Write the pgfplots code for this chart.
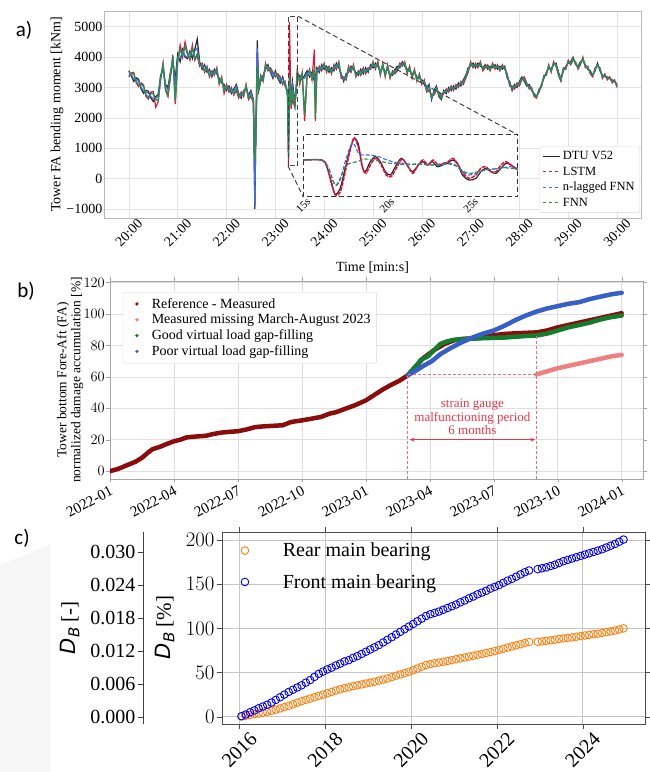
\documentclass[border=0pt]{standalone}
\usepackage{pgfplots}
\pgfplotsset{compat=1.18}
\usepackage{pgfplotstable}
\usepackage{fontspec}
\setmainfont{Liberation Serif}
\newfontfamily\panelfont{Carlito}
\newfontfamily\dvs{DejaVu Sans}
\usetikzlibrary{arrows.meta}

\definecolor{dtu}{RGB}{40,40,40}
\definecolor{lstm}{RGB}{220,20,60}
\definecolor{nlag}{RGB}{65,105,225}
\definecolor{fnn}{RGB}{46,139,87}
\definecolor{refred}{RGB}{139,12,12}
\definecolor{misspink}{RGB}{240,128,128}
\definecolor{goodgreen}{RGB}{20,125,45}
\definecolor{poorblue}{RGB}{55,95,200}
\definecolor{annot}{RGB}{232,55,70}
\definecolor{annotlight}{RGB}{240,110,120}
\definecolor{rearor}{RGB}{255,127,14}
\definecolor{frontbl}{RGB}{0,0,235}

\pgfplotsset{
  dotleg/.style={legend image code/.code={\path[draw=none,fill=none] (0cm,0cm) -- (0.8cm,0cm); \fill[##1, draw=none] (0.35cm,0cm) circle (1.8pt);}},
  ringleg/.style={legend image code/.code={\path[draw=none,fill=none] (0cm,0cm) -- (2cm,0cm); \draw[##1, line width=0.9pt, fill=none] (0.74cm,0cm) circle (3.8pt);}}
}

\newcommand\DB{{\dvs\itshape D\kern0.03em\raisebox{-0.3ex}{\fontsize{15}{15}\selectfont B}}}

% panel a: tower FA bending moment, t in minutes
\pgfplotstableread{
t dtu lstm nfnn fnn
20.00 3550 3350 3500 3390
20.05 3380 3480 3420 3460
20.10 3200 3500 3275 3440
20.15 3320 3150 3280 3200
20.20 3270 3030 3210 3080
20.25 2950 3150 3000 3100
20.30 2810 3090 2880 3035
20.35 2900 2700 2850 2760
20.40 2880 2620 2815 2670
20.45 2650 2850 2700 2800
20.50 2540 2860 2620 2800
20.55 2700 2350 2650 2600
20.60 2770 2530 2710 2580
20.65 3400 3250 3350 3300
20.70 3600 3800 3650 3760
20.75 3100 2900 3050 2950
20.80 3000 2700 2925 2760
20.85 3500 3300 3450 3400
20.90 3820 4080 3885 4030
20.95 3300 2450 3100 2550
21.00 4100 3850 4000 3900
21.05 3850 4400 3950 4250
21.10 4250 4000 4200 4050
21.15 4000 4500 4050 4350
21.20 3950 4150 4000 4100
21.25 4200 3900 4150 3950
21.30 3950 4400 4050 4300
21.35 4250 3900 4200 3950
21.40 4600 4050 4300 4100
21.45 3850 3700 3800 3750
21.50 3600 3800 3650 3750
21.55 3750 3500 3700 3550
21.60 3500 3700 3550 3650
21.65 3600 3350 3550 3400
21.70 3350 3550 3400 3500
21.75 3600 3400 3550 3450
21.80 3450 3650 3500 3600
21.85 3300 3100 3250 3150
21.90 3150 3350 3200 3300
21.95 3100 2800 3050 2900
22.00 2900 3100 2950 3050
22.05 3050 2850 3000 2900
22.10 2800 3000 2850 2950
22.15 2950 2750 2900 2800
22.20 3100 2900 3050 2950
22.25 2800 2650 2750 2700
22.30 2650 2850 2700 2800
22.35 2900 2700 2850 2750
22.40 2950 3100 3000 3050
22.45 2750 2600 2700 2650
22.50 2900 2700 2850 2750
22.55 2600 2500 2600 2550
22.58 -1000 400 -950 600
22.60 1500 1500 1400 1300
22.63 4550 3500 4300 3700
22.66 2900 3000 3000 2950
22.70 3200 3400 3250 3350
22.75 3400 3200 3350 3250
22.80 3600 3800 3650 3750
22.85 3750 3550 3700 3600
22.90 3500 3650 3550 3600
22.95 3300 3500 3350 3450
23.00 3550 3350 3500 3400
23.05 3300 3450 3350 3400
23.10 3150 3350 3200 3300
23.15 3350 3100 3300 3150
23.20 3050 3200 3100 3150
23.25 2900 2700 2850 2750
23.27 1200 450 1000 700
23.29 3000 5150 3100 3400
23.32 2700 2300 2650 2400
23.35 3200 2600 3100 2900
23.40 2500 2350 2450 2400
23.45 3300 3600 3350 3500
23.50 3400 3100 3350 3200
23.55 3250 3500 3300 3450
23.60 3400 1900 3300 2100
23.65 3550 3350 3500 3400
23.70 3350 3600 3400 3550
23.75 3500 3250 3450 3300
23.80 3200 4250 3300 3600
23.82 3300 1900 3250 2000
23.85 3650 3450 3600 3500
23.90 3500 3700 3550 3650
23.95 3750 3550 3700 3600
24.00 3600 3800 3650 3750
24.05 3700 3500 3650 3550
24.10 3500 3700 3550 3650
24.15 3650 3450 3600 3500
24.20 3550 3750 3600 3700
24.25 3800 3600 3750 3650
24.30 3650 3850 3700 3800
24.35 3450 3300 3400 3350
24.40 3200 3350 3250 3300
24.45 3450 3250 3400 3300
24.50 3500 3700 3550 3650
24.55 3700 3500 3650 3550
24.60 3600 3750 3650 3700
24.65 3500 3350 3450 3400
24.70 3400 3550 3450 3500
24.75 3600 3400 3550 3450
24.80 3450 3650 3500 3600
24.85 3650 3450 3600 3500
24.90 3500 3650 3550 3600
24.95 3750 3600 3700 3650
25.00 3650 3850 3700 3800
25.05 3800 3600 3750 3650
25.10 3700 3850 3750 3800
25.15 3550 3400 3500 3450
25.20 3650 3800 3700 3750
25.25 3500 3350 3450 3400
25.30 3600 3750 3650 3700
25.35 3450 3300 3400 3350
25.40 3400 3550 3450 3500
25.45 3600 3450 3550 3500
25.50 3700 3550 3650 3600
25.55 3650 3800 3700 3750
25.60 3850 3700 3800 3750
25.65 3700 3850 3750 3800
25.70 3600 3450 3550 3500
25.75 3550 3700 3600 3650
25.80 3450 3300 3400 3350
25.85 3500 3600 3500 3550
25.90 3350 3200 3300 3250
25.95 3300 3450 3350 3400
26.00 3250 3100 3200 3150
26.05 3100 3250 3150 3200
26.10 2950 2850 2950 2900
26.15 3100 2900 3050 2950
26.20 2600 2750 2650 2700
26.25 2900 2750 2850 2800
26.30 3050 2900 3000 2950
26.35 2700 2850 2750 2800
26.40 2600 2700 2650 2650
26.45 2900 2800 2850 2850
26.50 2800 2950 2850 2900
26.55 3000 2850 2950 2900
26.60 2900 3050 2950 3000
26.65 3050 2900 3000 2950
26.70 2950 3100 3000 3050
26.75 3150 3000 3100 3050
26.80 3050 3200 3100 3150
26.85 3250 3100 3200 3150
26.90 3400 3300 3350 3350
26.95 3650 3500 3600 3550
27.00 3700 3850 3750 3800
27.05 3800 3650 3750 3700
27.10 3650 3800 3700 3750
27.15 3800 3650 3750 3700
27.20 3700 3850 3750 3800
27.25 3650 3550 3650 3600
27.30 3750 3650 3700 3700
27.35 3600 3750 3650 3700
27.40 3700 3550 3650 3600
27.45 3650 3800 3700 3750
27.50 3750 3600 3700 3650
27.55 3600 3750 3650 3700
27.60 3700 3550 3650 3600
27.65 3600 3750 3650 3700
27.70 3700 3600 3650 3650
27.75 3300 3450 3350 3400
27.80 3200 3050 3150 3100
27.85 2900 3050 2950 3000
27.90 3100 2950 3050 3000
27.95 3000 3150 3050 3100
28.00 3200 3050 3150 3100
28.05 3350 3250 3300 3300
28.10 3200 3350 3250 3300
28.15 3050 3150 3100 3100
28.20 3100 2950 3050 3000
28.25 2900 3000 2950 2950
28.30 2800 2700 2750 2750
28.35 2700 2650 2700 2700
28.40 2850 2950 2900 2900
28.45 3100 3000 3050 3050
28.50 3300 3400 3350 3350
28.55 3500 3400 3450 3450
28.60 3650 3750 3700 3700
28.65 3600 3500 3550 3550
28.70 3750 3850 3800 3800
28.75 3800 3700 3750 3750
28.80 3500 3400 3450 3450
28.85 3300 3200 3300 3250
28.90 3550 3650 3600 3600
28.95 3700 3600 3650 3650
29.00 3800 3900 3850 3850
29.05 3850 3750 3800 3800
29.10 4000 3900 3950 3950
29.15 3750 3850 3800 3800
29.20 3700 3600 3650 3650
29.25 3850 3750 3800 3800
29.30 3900 4000 3950 3950
29.35 3750 3650 3700 3700
29.40 3600 3700 3650 3650
29.45 3550 3450 3500 3500
29.50 3400 3350 3400 3400
29.55 3550 3650 3600 3600
29.60 3800 3700 3750 3750
29.65 3550 3650 3600 3600
29.70 3400 3300 3350 3350
29.75 3350 3450 3400 3400
29.80 3350 3250 3300 3300
29.85 3300 3350 3300 3300
29.90 3250 3150 3200 3200
29.95 3200 3250 3200 3200
30.00 3100 3000 3050 3050
}\tabA

% inset (time in s, arbitrary units)
\pgfplotstableread{
t v
15.0 115
16.1 115
16.4 95
16.7 45
16.9 12
17.2 30
17.5 90
17.8 150
18.05 180
18.3 160
18.5 100
18.7 80
19.0 110
19.3 125
19.6 110
19.9 80
20.2 70
20.5 95
20.85 120
21.2 100
21.5 80
21.8 95
22.1 110
22.4 100
22.7 110
23.0 95
23.3 100
23.6 105
23.9 115
24.2 105
24.5 70
24.9 55
25.3 60
25.6 80
25.9 90
26.2 80
26.5 75
26.8 90
27.1 105
27.4 100
27.8 85
}\inDTU
\pgfplotstableread{
t v
15.0 115
16.1 115
16.4 98
16.7 40
16.95 8
17.25 25
17.55 90
17.85 155
18.05 182
18.3 150
18.55 90
18.75 75
19.05 105
19.35 120
19.65 100
19.95 70
20.25 65
20.55 90
20.9 118
21.25 95
21.55 75
21.85 100
22.15 115
22.45 100
22.75 115
23.05 100
23.35 105
23.65 110
23.95 120
24.25 100
24.55 75
24.9 60
25.3 70
25.6 90
25.9 95
26.2 80
26.5 80
26.8 100
27.1 110
27.4 100
27.8 85
}\inLSTM
\pgfplotstableread{
t v
15.0 115
16.1 115
16.5 90
16.9 40
17.2 55
17.5 110
17.8 155
18.0 165
18.3 135
18.6 130
19.0 130
19.5 125
20.0 115
20.5 108
21.0 105
21.5 102
22.0 103
22.5 100
23.0 102
23.5 105
24.0 103
24.5 80
24.9 70
25.3 75
25.8 85
26.3 88
26.8 90
27.3 95
27.8 90
}\inNLAG
\pgfplotstableread{
t v
15.0 115
16.1 115
16.5 92
16.9 40
17.2 60
17.5 95
17.8 105
18.2 110
18.7 118
19.2 115
19.7 110
20.2 105
20.7 103
21.2 100
21.7 103
22.2 102
22.7 100
23.2 100
23.7 103
24.2 95
24.6 80
25.0 75
25.4 80
25.9 85
26.4 88
26.9 92
27.4 90
27.8 88
}\inFNN

% panel b: months since 2022-01
\pgfplotstableread{
m d
0 0
0.4 1.5
0.8 3.8
1.2 6
1.5 8.5
1.8 12
2.0 14
2.35 15.5
2.7 17.5
3.0 19
3.3 20
3.6 21.5
4.0 22
4.5 22.5
4.8 23.5
5.2 24.5
5.6 25
6.0 25.4
6.4 26.5
6.8 28
7.2 28.5
7.6 28.8
8.1 29.2
8.5 31.3
9.0 32.3
9.5 33.5
9.9 34.5
10.3 36.6
10.6 37.5
11.0 39.5
11.5 42
12.0 45
12.4 48.5
12.8 52
13.2 55
13.6 57.7
13.96 61
14.3 66
14.7 72
15.2 77
15.7 81
16.2 83.5
16.6 84.2
17.0 84.5
17.5 85
18.0 86.5
18.5 87.3
19.0 87.7
19.5 88
20.0 88.3
20.5 89.5
21.0 91.5
21.5 93
22.0 94.5
22.5 96
23.0 97.5
23.5 99
24.0 100.5
}\refB
\pgfplotstableread{
m d
20.0 61.5
20.5 63.5
21.0 65.5
21.5 67
22.0 68.5
22.5 70
23.0 71.5
23.5 73
24.0 74
}\missB
\pgfplotstableread{
m d
13.96 61
14.3 66
14.6 71
14.9 73
15.2 77
15.5 81
15.8 82.5
16.1 83.5
16.5 84
17.0 84.3
17.5 84.6
18.0 84.8
18.5 85
19.0 85.5
19.5 86
20.0 86.3
20.5 87.5
21.0 89.5
21.5 91.5
22.0 93
22.5 94.5
23.0 96.5
23.5 98
24.0 99
}\goodB
\pgfplotstableread{
m d
13.96 61
14.3 63.5
14.7 67
15.1 70
15.5 74.5
16.0 78.5
16.5 82
17.0 85
17.5 87.5
18.0 89.5
18.5 92.5
19.0 96
19.5 99
20.0 101.5
20.5 103.5
21.0 105
21.5 106.5
22.0 107.5
22.5 109.5
23.0 111
23.5 112.5
24.0 113.5
}\poorB

% panel c: main bearing damage [%]
\pgfplotstableread{
y d
2016.05 0.3
2016.15 1
2016.25 2
2016.35 2.8
2016.45 3.6
2016.55 4.5
2016.65 5.5
2016.75 6.7
2016.85 8
2016.95 9.3
2017.05 10.8
2017.15 12.3
2017.25 14
2017.35 15.8
2017.45 17.5
2017.55 19
2017.65 20.5
2017.75 22
2017.85 23.5
2017.95 25
2018.05 26.5
2018.15 28
2018.25 29.5
2018.35 31
2018.45 32.3
2018.55 33.3
2018.65 34.5
2018.75 35.5
2018.85 36.5
2018.95 37.5
2019.05 38.5
2019.15 39.5
2019.25 40.8
2019.35 42
2019.45 43.3
2019.55 44.8
2019.65 46.3
2019.75 47.8
2019.85 49.3
2019.95 50.8
2020.05 52.5
2020.15 54.5
2020.25 56.5
2020.35 58.5
2020.45 59.5
2020.55 60.5
2020.65 61.3
2020.75 62.2
2020.85 63
2020.95 64
2021.05 65
2021.15 66
2021.25 67
2021.35 68
2021.45 69
2021.55 70
2021.65 71
2021.75 72
2021.85 73.2
2021.95 74.3
2022.05 75.5
2022.15 76.8
2022.25 78.2
2022.35 79.5
2022.45 80.8
2022.55 82
2022.65 83.3
2022.75 84.5
2022.95 84.8
2023.05 85.2
2023.15 85.8
2023.25 86.5
2023.35 87.2
2023.45 88
2023.55 88.6
2023.65 89.2
2023.75 89.8
2023.85 90.5
2023.95 91.2
2024.05 91.9
2024.15 92.6
2024.25 93.3
2024.35 94
2024.45 94.8
2024.55 95.6
2024.65 96.5
2024.75 97.5
2024.85 98.7
2024.95 100
}\rearC
\pgfplotstableread{
y d
2016.05 0.5
2016.15 2.5
2016.25 5
2016.35 7
2016.45 9.5
2016.55 11.5
2016.65 13.5
2016.75 16
2016.85 19
2016.95 22
2017.05 25
2017.15 28
2017.25 30.5
2017.35 33
2017.45 35.5
2017.55 38.5
2017.65 41.5
2017.75 45
2017.85 48.5
2017.95 51
2018.05 53.5
2018.15 55.5
2018.25 58
2018.35 60
2018.45 62.5
2018.55 64
2018.65 66.5
2018.75 68.5
2018.85 71
2018.95 73.5
2019.05 76
2019.15 78.5
2019.25 81
2019.35 84
2019.45 87
2019.55 90
2019.65 93
2019.75 96
2019.85 99
2019.95 102
2020.05 105
2020.15 108
2020.25 111
2020.35 114
2020.45 116
2020.55 117.5
2020.65 119
2020.75 121
2020.85 123
2020.95 125
2021.05 127
2021.15 129.5
2021.25 131.5
2021.35 134
2021.45 136
2021.55 138.5
2021.65 140.5
2021.75 142.5
2021.85 145
2021.95 147
2022.05 149
2022.15 151.5
2022.25 154
2022.35 156
2022.45 158.5
2022.55 161
2022.65 163.5
2022.75 165.5
2022.95 167
2023.05 168
2023.15 169
2023.25 170.5
2023.35 172
2023.45 174
2023.55 176
2023.65 177.5
2023.75 179
2023.85 180.5
2023.95 182
2024.05 183.5
2024.15 185
2024.25 186.5
2024.35 188
2024.45 189.5
2024.55 191.5
2024.65 193.5
2024.75 195.5
2024.85 198
2024.95 200.5
}\frontC

\begin{document}
\begin{tikzpicture}
\path[use as bounding box] (0pt,0pt) rectangle (650pt,772pt);
\fill[gray!7] (0pt,207pt) -- (50pt,227pt) -- (50pt,0pt) -- (0pt,0pt) -- cycle;

% ---------- a) ----------
\begin{axis}[at={(104pt,554pt)}, anchor=south west, scale only axis,
  width=537pt, height=207pt,
  xmin=19.49, xmax=30.49, ymin=-1300, ymax=5520,
  xtick={20,21,...,30},
  xticklabels={20:00,21:00,22:00,23:00,24:00,25:00,26:00,27:00,28:00,29:00,30:00},
  ytick={-1000,0,1000,2000,3000,4000,5000},
  yticklabels={−1000,0,1000,2000,3000,4000,5000},
  grid=major, grid style={gray!22, line width=0.6pt},
  axis line style={gray!55}, major tick length=0pt,
  tick label style={font=\fontsize{14}{16}\selectfont},
  yticklabel style={inner sep=1.5pt},
  xticklabel style={rotate=45, anchor=center},
  xticklabel shift=15pt,
  ylabel={Tower FA bending moment [kNm]},
  ylabel style={at={(axis description cs:-0.0875,0.5)}, anchor=center, font=\fontsize{14}{16}\selectfont},
  xlabel={Time [min:s]},
  xlabel style={at={(axis description cs:0.5,-0.2415)}, anchor=center, font=\fontsize{14}{16}\selectfont},
  legend style={at={(axis description cs:0.998,0.025)}, anchor=south east,
    draw=gray!30, rounded corners=2pt, fill=white,
    font=\fontsize{12.5}{14}\selectfont, row sep=1.5pt, inner sep=3pt},
  legend cell align=left]
\addplot[dtu, line width=1.2pt, forget plot] table[x=t, y=dtu] {\tabA};
\addplot[lstm, line width=1.2pt, forget plot] table[x=t, y=lstm] {\tabA};
\addplot[nlag, line width=1.1pt, forget plot] table[x=t, y=nfnn] {\tabA};
\addplot[fnn, line width=1.4pt, forget plot] table[x=t, y=fnn] {\tabA};
\draw[black!75, line width=1pt, dash pattern=on 5pt off 3pt] (axis cs:23.26,415) rectangle (axis cs:23.46,5350);
\draw[black!75, line width=1pt, dash pattern=on 5pt off 3pt] (axis cs:23.46,5350) -- (axis cs:27.97,1436);
\draw[black!75, line width=1pt, dash pattern=on 5pt off 3pt] (axis cs:23.26,415) -- (axis cs:23.57,-595);
\addlegendimage{dtu, line width=1pt}
\addlegendentry{DTU V52}
\addlegendimage{lstm, line width=1pt, dashed}
\addlegendentry{LSTM}
\addlegendimage{nlag, line width=1pt, dashed}
\addlegendentry{n-lagged FNN}
\addlegendimage{fnn, line width=1pt, dashed}
\addlegendentry{FNN}
\end{axis}

% inset
\begin{axis}[at={(303.3pt,575.3pt)}, anchor=south west, scale only axis,
  width=214.4pt, height=61.7pt,
  xmin=15, xmax=27.8, ymin=5, ymax=190,
  ytick=\empty, xtick={15,20,25}, xticklabels={15s,20s,25s},
  major tick length=0pt,
  xticklabel style={font=\fontsize{11}{13}\selectfont, rotate=45, anchor=center},
  xticklabel shift=9pt,
  axis line style={black!80, line width=1pt, dash pattern=on 5pt off 3pt},
  axis background/.style={fill=white}]
\addplot[dtu, line width=1.2pt, smooth] table[x=t, y=v] {\inDTU};
\addplot[lstm, line width=1.5pt, smooth, dash pattern=on 4pt off 1pt] table[x=t, y=v] {\inLSTM};
\addplot[nlag, line width=1.1pt, smooth, dash pattern=on 4pt off 2pt] table[x=t, y=v] {\inNLAG};
\addplot[fnn, line width=1.1pt, smooth, dash pattern=on 4pt off 2pt] table[x=t, y=v] {\inFNN};
\end{axis}

% ---------- b) ----------
\begin{axis}[at={(110pt,293pt)}, anchor=south west, scale only axis,
  width=533pt, height=198pt,
  xmin=0, xmax=25, ymin=-5, ymax=121,
  xtick={0,3,...,24},
  xticklabels={2022-01,2022-04,2022-07,2022-10,2023-01,2023-04,2023-07,2023-10,2024-01},
  ytick={0,20,...,120},
  grid=major, grid style={gray!25, line width=0.6pt},
  axis line style={gray!70}, tick align=outside, major tick length=3.5pt,
  tick style={gray!70},
  tick label style={font=\fontsize{15}{17}\selectfont},
  yticklabel style={inner sep=1.5pt},
  xticklabel style={rotate=28, anchor=north east, inner sep=2pt},
  ylabel={Tower bottom Fore-Aft (FA)\\normalized damage accumulation [\%]},
  ylabel style={at={(axis description cs:-0.075,0.5)}, anchor=center, align=center,
    font=\fontsize{13.5}{14}\selectfont},
  legend style={at={(axis description cs:0.024,0.944)}, anchor=north west,
    draw=gray!30, rounded corners=2pt, fill=white,
    font=\fontsize{14}{16}\selectfont, row sep=0.5pt, inner sep=4pt},
  legend cell align=left]
\addplot[refred, line width=4.5pt, line cap=round, line join=round, forget plot] table[x=m, y=d] {\refB};
\addplot[misspink, line width=4.5pt, line cap=round, line join=round, forget plot] table[x=m, y=d] {\missB};
\addplot[goodgreen, line width=4.5pt, line cap=round, line join=round, forget plot] table[x=m, y=d] {\goodB};
\addplot[poorblue, line width=4.5pt, line cap=round, line join=round, forget plot] table[x=m, y=d] {\poorB};
\draw[annotlight, line width=0.8pt, dash pattern=on 3pt off 2pt] (axis cs:13.96,-5) -- (axis cs:13.96,61.5) -- (axis cs:20,61.5);
\draw[annotlight, line width=0.8pt, dash pattern=on 3pt off 2pt] (axis cs:20,-5) -- (axis cs:20,87);
\draw[annot, line width=0.9pt, {Stealth[length=5pt]}-{Stealth[length=5pt]}] (axis cs:14.05,20) -- (axis cs:19.95,20);
\node[annot, align=center, font=\fontsize{13}{13.6}\selectfont] at (axis cs:17,34.5)
  {strain gauge\\malfunctioning period\\6 months};
\addlegendimage{dotleg, refred}
\addlegendentry{Reference - Measured}
\addlegendimage{dotleg, misspink}
\addlegendentry{Measured missing March-August 2023}
\addlegendimage{dotleg, goodgreen}
\addlegendentry{Good virtual load gap-filling}
\addlegendimage{dotleg, poorblue}
\addlegendentry{Poor virtual load gap-filling}
\end{axis}

% ---------- c) ----------
\begin{axis}[at={(142.7pt,48pt)}, anchor=south west, scale only axis,
  width=20pt, height=192.3pt,
  xmin=0, xmax=1, ymin=-0.00133, ymax=0.0337,
  axis y line*=left, hide x axis, scaled y ticks=false,
  ytick={0,0.006,0.012,0.018,0.024,0.030},
  yticklabels={0.000,0.006,0.012,0.018,0.024,0.030},
  tick align=outside, major tick length=5pt,
  axis line style={black!75}, tick style={black!75},
  tick label style={font=\fontsize{20}{22}\selectfont},
  yticklabel style={inner sep=2pt},
  ylabel={\DB\ [-]},
  ylabel style={at={(axis description cs:-3.635,0.5)}, anchor=center, font=\fontsize{21}{23}\selectfont}]
\end{axis}

\begin{axis}[at={(221.7pt,48pt)}, anchor=south west, scale only axis,
  width=423.3pt, height=192.3pt,
  xmin=2015.59, xmax=2025.45, ymin=-8.3, ymax=209.4,
  xtick={2016,2018,2020,2022,2024}, xticklabels={2016,2018,2020,2022,2024},
  ytick={0,50,...,200},
  grid=major, grid style={gray!45, line width=0.7pt},
  axis line style={black!70}, tick align=outside, major tick length=5pt,
  tick style={black!70},
  tick label style={font=\fontsize{20}{22}\selectfont},
  yticklabel style={inner sep=2pt},
  xticklabel style={yshift=-21pt, rotate=45, anchor=center},
  ylabel={\DB\ [\%]},
  ylabel style={at={(axis description cs:-0.134,0.5)}, anchor=center, font=\fontsize{21}{23}\selectfont},
  legend style={at={(axis description cs:0.0,1.0)}, anchor=north west, yshift=-7pt,
    draw=none, fill=none, font=\fontsize{20}{22}\selectfont, row sep=12pt, inner sep=2pt},
  legend cell align=left]
\addplot[only marks, mark=o, mark size=3.8pt, rearor, mark options={line width=0.9pt}, ringleg] table[x=y, y=d] {\rearC};
\addlegendentry{Rear main bearing}
\addplot[only marks, mark=o, mark size=3.8pt, frontbl, mark options={line width=0.9pt}, ringleg] table[x=y, y=d] {\frontC};
\addlegendentry{Front main bearing}
\end{axis}

\node[font=\panelfont\fontsize{21}{21}\selectfont] at (24pt,742pt) {a)};
\node[font=\panelfont\fontsize{21}{21}\selectfont] at (26pt,481pt) {b)};
\node[font=\panelfont\fontsize{21}{21}\selectfont] at (22pt,234pt) {c)};
\end{tikzpicture}
\end{document}
